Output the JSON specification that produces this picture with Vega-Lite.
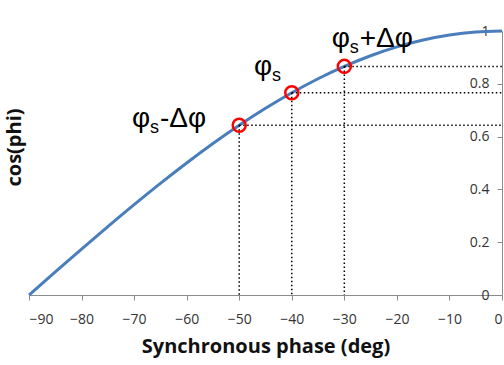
{
  "$schema": "https://vega.github.io/schema/vega-lite/v6.json",
  "width": 473,
  "height": 264,
  "autosize": {"type": "none"},
  "padding": {"left": 29, "top": 31, "right": 2, "bottom": 70},
  "background": "white",
  "config": {
    "view": {"stroke": null},
    "axis": {"grid": false, "labelFont": "Open Sans", "titleFont": "Open Sans", "labelColor": "#333333", "titleColor": "#111111", "domainColor": "#8c8c8c", "tickColor": "#8c8c8c"}
  },
  "datasets": {
    "curve": [
      {"phi": -90, "c": 0}, {"phi": -85, "c": 0.0872}, {"phi": -80, "c": 0.1736}, {"phi": -75, "c": 0.2588},
      {"phi": -70, "c": 0.342}, {"phi": -65, "c": 0.4226}, {"phi": -60, "c": 0.5}, {"phi": -55, "c": 0.5736},
      {"phi": -50, "c": 0.6428}, {"phi": -45, "c": 0.7071}, {"phi": -40, "c": 0.766}, {"phi": -35, "c": 0.8192},
      {"phi": -30, "c": 0.866}, {"phi": -25, "c": 0.9063}, {"phi": -20, "c": 0.9397}, {"phi": -15, "c": 0.9659},
      {"phi": -10, "c": 0.9848}, {"phi": -5, "c": 0.9962}, {"phi": 0, "c": 1}
    ],
    "pts": [
      {"phi": -50, "c": 0.6428}, {"phi": -40, "c": 0.766}, {"phi": -30, "c": 0.866}
    ],
    "labels": [
      {"lx": -32.4, "ly": 0.939, "rest": "+Δφ"},
      {"lx": -47.2, "ly": 0.833, "rest": ""},
      {"lx": -70.4, "ly": 0.636, "rest": "-Δφ"}
    ]
  },
  "layer": [
    {
      "data": {"name": "curve"},
      "mark": {"type": "line", "interpolate": "monotone", "color": "#4a7ebb", "strokeWidth": 3},
      "encoding": {
        "x": {"field": "phi", "type": "quantitative", "scale": {"domain": [-90, 0], "nice": false},
          "axis": {"values": [-90, -80, -70, -60, -50, -40, -30, -20, -10, 0], "tickSize": 5, "labelPadding": 12, "labelFontSize": 14, "title": "Synchronous phase (deg)", "titleFontSize": 20, "titleFontWeight": "bold", "titlePadding": 10}},
        "y": {"field": "c", "type": "quantitative", "scale": {"domain": [0, 1], "nice": false},
          "axis": {"orient": "right", "values": [0, 0.2, 0.4, 0.6, 0.8, 1], "format": "~g", "tickSize": -5, "labelPadding": -8, "labelAlign": "right", "labelFontSize": 14, "title": "cos(phi)", "titleFontSize": 20, "titleFontWeight": "bold", "titleAngle": 270, "titleX": -488, "titleY": 116, "titleAlign": "center", "titleBaseline": "middle"}}
      }
    },
    {
      "data": {"name": "pts"},
      "mark": {"type": "rule", "color": "black", "strokeWidth": 1.5, "strokeDash": [1.5, 2.5]},
      "encoding": {
        "x": {"field": "phi", "type": "quantitative"},
        "x2": {"datum": 0},
        "y": {"field": "c", "type": "quantitative"}
      }
    },
    {
      "data": {"name": "pts"},
      "mark": {"type": "rule", "color": "black", "strokeWidth": 1.5, "strokeDash": [1.5, 2.5]},
      "encoding": {
        "x": {"field": "phi", "type": "quantitative"},
        "y": {"field": "c", "type": "quantitative"},
        "y2": {"datum": 0}
      }
    },
    {
      "data": {"name": "pts"},
      "mark": {"type": "point", "shape": "circle", "filled": false, "color": "#ff0000", "strokeWidth": 2.5, "size": 170, "opacity": 1},
      "encoding": {
        "x": {"field": "phi", "type": "quantitative"},
        "y": {"field": "c", "type": "quantitative"}
      }
    },
    {
      "data": {"name": "labels"},
      "mark": {"type": "text", "align": "left", "baseline": "alphabetic", "font": "Liberation Sans", "fontSize": 28, "color": "black"},
      "encoding": {
        "x": {"field": "lx", "type": "quantitative"},
        "y": {"field": "ly", "type": "quantitative"},
        "text": {"value": "φ"}
      }
    },
    {
      "data": {"name": "labels"},
      "mark": {"type": "text", "align": "left", "baseline": "alphabetic", "font": "Liberation Sans", "fontSize": 18, "color": "black", "dx": 18, "dy": 6},
      "encoding": {
        "x": {"field": "lx", "type": "quantitative"},
        "y": {"field": "ly", "type": "quantitative"},
        "text": {"value": "s"}
      }
    },
    {
      "data": {"name": "labels"},
      "mark": {"type": "text", "align": "left", "baseline": "alphabetic", "font": "Liberation Sans", "fontSize": 28, "color": "black", "dx": 28},
      "encoding": {
        "x": {"field": "lx", "type": "quantitative"},
        "y": {"field": "ly", "type": "quantitative"},
        "text": {"field": "rest", "type": "nominal"}
      }
    }
  ]
}
